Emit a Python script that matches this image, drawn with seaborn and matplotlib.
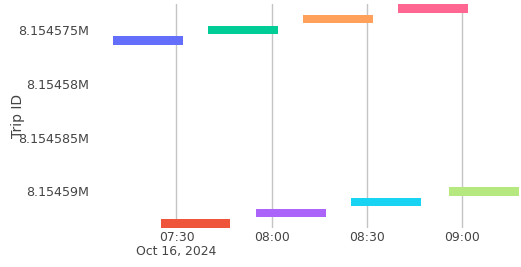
import matplotlib
matplotlib.use("Agg")
import matplotlib.pyplot as plt
import matplotlib.dates as mdates
import numpy as np
import pandas as pd
import seaborn as sns

# one bar per trip
trip_ids = [8154576, 8154593, 8154575, 8154592, 8154574, 8154591, 8154573, 8154590]
start_times = ["07:10", "07:25", "07:40", "07:55", "08:10", "08:25", "08:40", "08:56"]
end_times = ["07:32", "07:47", "08:02", "08:17", "08:32", "08:47", "09:02", "09:18"]
trip_colors = ["#636EFA", "#EF553B", "#00CC96", "#AB63FA",
               "#FFA15A", "#19D3F3", "#FF6692", "#B6E880"]

y_ticks = [8154575, 8154580, 8154585, 8154590]
y_tick_labels = ["8.154575M", "8.15458M", "8.154585M", "8.15459M"]
x_ticks = ["07:30", "08:00", "08:30", "09:00"]
x_tick_labels = ["07:30\nOct 16, 2024", "08:00", "08:30", "09:00"]
day = "2024-10-16 "

df = pd.DataFrame({
    "trip": trip_ids,
    "start": pd.to_datetime([day + t for t in start_times]),
    "end": pd.to_datetime([day + t for t in end_times]),
})
df["start_num"] = mdates.date2num(df["start"])
df["dur"] = mdates.date2num(df["end"]) - df["start_num"]

sns.set_theme(style="white")
plt.rcParams["font.family"] = ["DejaVu Sans"]
palette = sns.color_palette(trip_colors)

W, H = 521, 267
fig = plt.figure(figsize=(W / 100, H / 100), dpi=100)
left, right, top, bottom = 113, 519, 4, 228
ax = fig.add_axes([left / W, 1 - bottom / H, (right - left) / W, (bottom - top) / H])

ax.barh(df["trip"], df["dur"], left=df["start_num"], height=0.8,
        color=palette, linewidth=0, zorder=2)

ax.set_xlim(df["start_num"].min(), (df["start_num"] + df["dur"]).max())
ax.set_ylim(max(trip_ids) + 0.4, min(trip_ids) - 0.4)

ax.set_xticks(mdates.date2num(pd.to_datetime([day + t for t in x_ticks])))
ax.set_xticklabels(x_tick_labels, linespacing=1.1)
ax.set_yticks(y_ticks)
ax.set_yticklabels(y_tick_labels)

ax.tick_params(axis="x", length=0, pad=2.5, labelsize=8.9, labelcolor="#444444")
ax.tick_params(axis="y", length=0, pad=17, labelsize=9.1, labelcolor="#444444")

ax.grid(axis="x", color="#c4c4c4", linewidth=1)
ax.grid(axis="y", visible=False)
ax.set_axisbelow(True)
for s in ax.spines.values():
    s.set_visible(False)

fig.text(18 / W, 1 - 116 / H, "Trip ID", rotation=90, ha="center", va="center",
         fontsize=10, color="#444444")

fig.savefig("out.png", dpi=100)
